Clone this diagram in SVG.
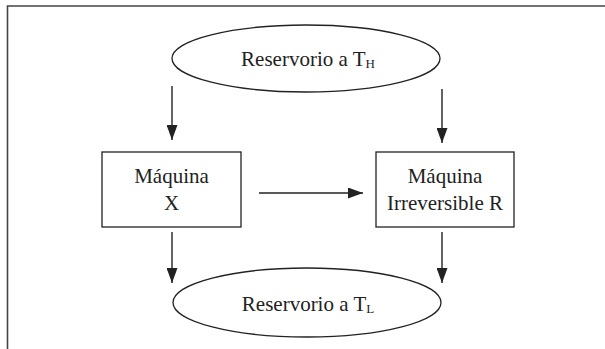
<svg xmlns="http://www.w3.org/2000/svg" width="605" height="349" viewBox="0 0 605 349">
<defs>
<style>
.frame{fill:none;stroke:#444;stroke-width:1.6}
.shape{fill:#fff;stroke:#222;stroke-width:1.3}
.conn{stroke:#222;stroke-width:1.4;fill:none}
.lbl{font-family:"Liberation Serif","Times New Roman",serif;font-size:21px;fill:#222;text-anchor:middle}
.sub{font-size:13px}
</style>
<marker id="ah" markerUnits="userSpaceOnUse" markerWidth="15" markerHeight="11" refX="15" refY="5.5" orient="auto">
<path d="M0,0 L15,5.5 L0,11 z" fill="#222"/>
</marker>
</defs>
<rect width="605" height="349" fill="#fff"/>
<path class="frame" d="M7.5,349 L7.5,6 L605,6"/>
<g id="connectors">
<line class="conn" x1="172" y1="86" x2="172" y2="140" marker-end="url(#ah)"/>
<line class="conn" x1="442" y1="89" x2="442" y2="143" marker-end="url(#ah)"/>
<line class="conn" x1="259" y1="193" x2="363" y2="193" marker-end="url(#ah)"/>
<line class="conn" x1="172" y1="232" x2="172" y2="283" marker-end="url(#ah)"/>
<line class="conn" x1="442" y1="232" x2="442" y2="283" marker-end="url(#ah)"/>
</g>
<g id="res_h">
<ellipse class="shape" cx="306" cy="58.5" rx="134" ry="33.5"/>
<text class="lbl" x="308" y="66">Reservorio a T<tspan class="sub" dy="1.5">H</tspan></text>
</g>
<g id="maq_x">
<rect class="shape" x="102" y="152" width="139" height="75"/>
<text class="lbl" x="171.5" y="183">Máquina</text>
<text class="lbl" x="171.5" y="210">X</text>
</g>
<g id="maq_r">
<rect class="shape" x="376" y="152" width="138" height="75"/>
<text class="lbl" x="445" y="183">Máquina</text>
<text class="lbl" x="445" y="210">Irreversible R</text>
</g>
<g id="res_l">
<ellipse class="shape" cx="307" cy="302.5" rx="134" ry="34.5"/>
<text class="lbl" x="308" y="311">Reservorio a T<tspan class="sub" dy="1.5">L</tspan></text>
</g>
</svg>
